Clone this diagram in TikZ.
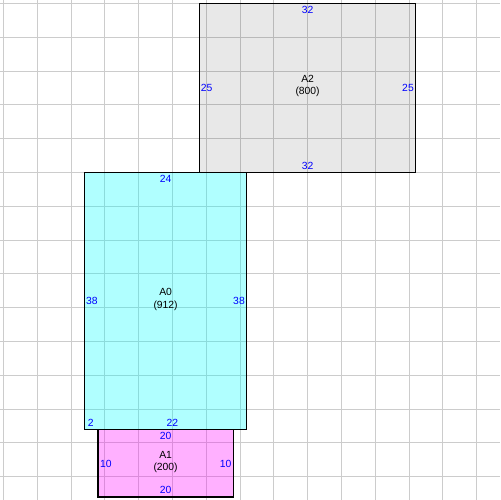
\documentclass[tikz,border=0pt]{standalone}
\usepackage{fontspec}
\setmainfont{Liberation Sans}
\definecolor{cyanfill}{RGB}{0,255,255}
\definecolor{magentafill}{RGB}{255,0,255}
\definecolor{gridgray}{RGB}{204,204,204}
\definecolor{dimblue}{RGB}{0,0,255}
\begin{document}
\begin{tikzpicture}[x=0.02cm,y=-0.02cm,
 gridline/.style={draw=gridgray, line width=0.55pt},
 box/.style={draw=black, line width=0.7pt},
 dimlabel/.style={text=dimblue, font=\fontsize{5.9}{7}\selectfont, inner sep=0pt},
 namelabel/.style={text=black, font=\fontsize{5.9}{7.2}\selectfont, align=center, inner sep=0pt}]
\useasboundingbox (0,0) rectangle (500,500);
\fill[white] (0,0) rectangle (500,500);
\foreach \k in {0,...,14} {
  \draw[gridline] (3.4+33.8*\k,0) -- (3.4+33.8*\k,500);
  \draw[gridline] (0,3.4+33.8*\k) -- (500,3.4+33.8*\k);
}
% fills
\fill[black, fill opacity=0.09] (199.44,3.4) rectangle (415.76,172.4);
\fill[cyanfill, fill opacity=0.31] (84.52,172.4) rectangle (246.76,429.28);
\fill[magentafill, fill opacity=0.31] (98.04,429.28) rectangle (233.24,496.88);
% borders
\draw[box] (199.44,3.4) rectangle (415.76,172.4);
\draw[box] (84.52,172.4) rectangle (246.76,429.28);
\draw[box] (98.04,429.28) rectangle (233.24,496.88);
% A2
\node[namelabel] (nA2) at (307.6,86) {A2\\(800)};
\node[dimlabel] (a2t) at (307.6,10.2) {32};
\node[dimlabel] (a2b) at (307.6,165.7) {32};
\node[dimlabel] (a2l) at (206.7,88) {25};
\node[dimlabel] (a2r) at (408,88) {25};
% A0
\node[namelabel] (nA0) at (165.6,299.7) {A0\\(912)};
\node[dimlabel] (a0t) at (165.6,179.3) {24};
\node[dimlabel] (a0l) at (92,300.8) {38};
\node[dimlabel] (a0r) at (239,300.8) {38};
\node[dimlabel] (a0b1) at (90.7,422.7) {2};
\node[dimlabel] (a0b2) at (172.4,422.7) {22};
% A1
\node[namelabel] (nA1) at (165.6,462) {A1\\(200)};
\node[dimlabel] (a1t) at (165.6,435.7) {20};
\node[dimlabel] (a1b) at (165.6,490.3) {20};
\node[dimlabel] (a1l) at (106,463.7) {10};
\node[dimlabel] (a1r) at (225.7,463.7) {10};
\end{tikzpicture}
\end{document}
